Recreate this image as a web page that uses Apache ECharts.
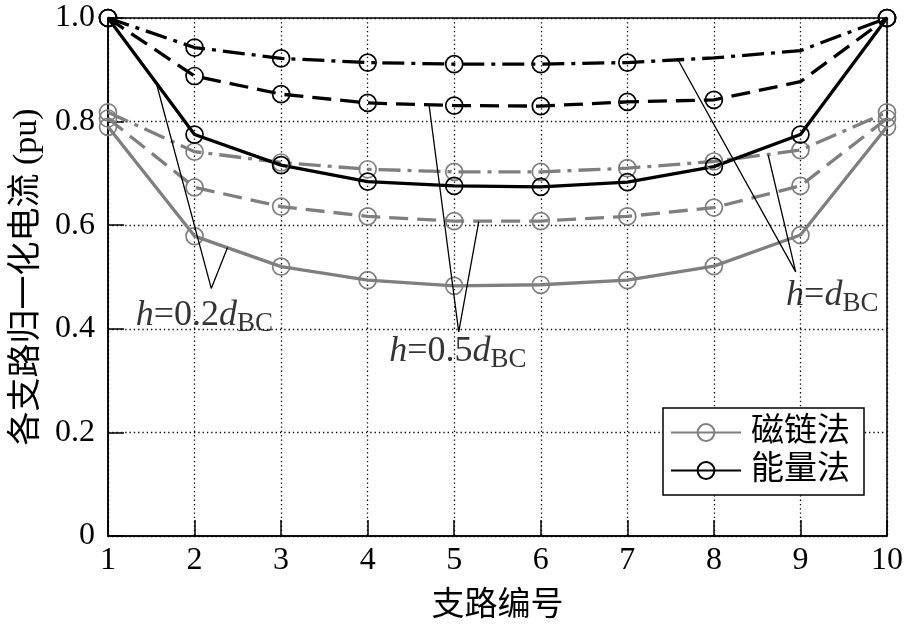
<!DOCTYPE html>
<html>
<head>
<meta charset="utf-8">
<script src="https://cdn.jsdelivr.net/npm/echarts@6/dist/echarts.min.js"></script>
<style>
html,body{margin:0;padding:0;background:#fff;}
#chart{width:906px;height:631px;}
</style>
</head>
<body>
<div id="chart"></div>
<script>
// ---- data ----
const branches = [1, 2, 3, 4, 5, 6, 7, 8, 9, 10];
const yTickLabels = ['0', '0.2', '0.4', '0.6', '0.8', '1.0'];
const xTickLabels = ['1', '2', '3', '4', '5', '6', '7', '8', '9', '10'];

// 磁链法 (gray)
const fluxH02 = [0.790, 0.579, 0.520, 0.494, 0.483, 0.485, 0.494, 0.521, 0.581, 0.790];
const fluxH05 = [0.806, 0.673, 0.636, 0.617, 0.608, 0.608, 0.617, 0.634, 0.676, 0.806];
const fluxH10 = [0.818, 0.742, 0.721, 0.708, 0.703, 0.703, 0.710, 0.723, 0.745, 0.818];
// 能量法 (black)
const energyH02 = [1.000, 0.775, 0.716, 0.684, 0.676, 0.674, 0.683, 0.713, 0.775, 1.000];
const energyH05 = [1.000, 0.888, 0.853, 0.836, 0.831, 0.830, 0.838, 0.842, 0.877, 1.000];
const energyH10 = [1.000, 0.943, 0.922, 0.914, 0.911, 0.911, 0.914, 0.923, 0.937, 1.000];

// indices of points drawn without a circle marker
const energyH05NoMarker = [8];
const energyH10NoMarker = [7, 8];

// annotation leaders (data coordinates): [end on curve, apex, end on curve]
const annoText = ['0.2', '0.5', ''];
const annoAnchor = [[1.326, 0.382], [4.254, 0.313], [8.840, 0.421]];
const annoLeader = [
  [[1.557, 0.875], [2.193, 0.478], [2.381, 0.557]],
  [[4.709, 0.8325], [5.052, 0.394], [5.283, 0.607]],
  [[7.587, 0.919], [8.945, 0.510], [8.628, 0.735]]
];

// ---- chart ----
const GRAY = '#7f7f7f';
const BLACK = '#000';
const SERIF = 'Liberation Serif';
const CJK = "'Liberation Serif', 'Noto Sans CJK SC'";
const DASH = [19, 9];
const DASHDOT = [22, 7, 4, 7];

function pts(vals, hidden) {
  return branches.map((x, i) => {
    const item = { value: [x, vals[i]] };
    if (hidden && hidden.indexOf(i) >= 0) item.symbol = 'none';
    return item;
  });
}

function curve(name, vals, color, type, hidden) {
  return {
    name: name,
    type: 'line',
    data: pts(vals, hidden),
    symbol: 'circle',
    symbolSize: 17,
    showSymbol: true,
    lineStyle: { color: color, width: 3.3, type: type },
    itemStyle: { color: 'rgba(0,0,0,0)', borderColor: color, borderWidth: 1.7 },
    emphasis: { disabled: true },
    silent: true,
    animation: false,
    z: 3
  };
}

const series = [
  curve('磁链法', fluxH02, GRAY, 'solid'),
  curve('磁链法', fluxH05, GRAY, DASH),
  curve('磁链法', fluxH10, GRAY, DASHDOT),
  curve('能量法', energyH02, BLACK, 'solid'),
  curve('能量法', energyH05, BLACK, DASH, energyH05NoMarker),
  curve('能量法', energyH10, BLACK, DASHDOT, energyH10NoMarker)
];

annoLeader.forEach((pl, k) => {
  series.push({
    name: 'leader' + k,
    type: 'line',
    data: pl,
    symbol: 'none',
    lineStyle: { color: BLACK, width: 1.3, type: 'solid' },
    silent: true,
    animation: false,
    z: 4
  });
});

const annoRich = {
  i: { fontFamily: SERIF, fontStyle: 'italic', fontSize: 36, color: '#000', padding: [0, 0, 4, 0], verticalAlign: 'bottom' },
  n: { fontFamily: SERIF, fontSize: 36, color: '#000', padding: [0, 0, 4, 0], verticalAlign: 'bottom' },
  s: { fontFamily: SERIF, fontSize: 27, color: '#000', verticalAlign: 'bottom' }
};

series.push({
  name: 'labels',
  type: 'scatter',
  symbolSize: 1,
  itemStyle: { color: 'rgba(0,0,0,0)' },
  silent: true,
  animation: false,
  z: 5,
  data: annoAnchor.map((a, k) => ({
    value: a,
    label: {
      show: true,
      position: [0, 0],
      align: 'left',
      verticalAlign: 'bottom',
      formatter: '{i|h}{n|=' + annoText[k] + '}{i|d}{s|BC}',
      rich: annoRich
    }
  }))
});

const chart = echarts.init(document.getElementById('chart'), null, { renderer: 'canvas' });
chart.setOption({
  backgroundColor: '#fff',
  animation: false,
  grid: {
    left: 108, right: 19, top: 18, bottom: 95,
    show: true, borderColor: '#000', borderWidth: 1.5, backgroundColor: 'transparent'
  },
  legend: {
    data: ['磁链法', '能量法'],
    orient: 'vertical',
    left: 663, top: 408,
    padding: [8, 14, 8, 7],
    itemGap: 5,
    itemWidth: 70,
    itemHeight: 21,
    borderColor: '#000',
    borderWidth: 1.5,
    backgroundColor: '#fff',
    selectedMode: false,
    textStyle: { fontFamily: CJK, fontSize: 33, color: '#000', padding: [0, 0, 0, 5] }
  },
  xAxis: {
    type: 'value',
    min: 1, max: 10, interval: 1,
    name: '支路编号',
    nameLocation: 'middle',
    nameGap: 54,
    nameTextStyle: { fontFamily: CJK, fontSize: 33, color: '#000' },
    axisLine: { show: true, lineStyle: { color: '#000', width: 1.5 } },
    axisTick: { show: true, inside: true, length: 16, lineStyle: { color: '#000', width: 1.5 } },
    axisLabel: {
      margin: 9, fontFamily: SERIF, fontSize: 32, color: '#000',
      formatter: v => xTickLabels[Math.round(v) - 1]
    },
    splitLine: { show: true, lineStyle: { color: '#000', width: 1.3, type: [1.3, 3] } }
  },
  yAxis: {
    type: 'value',
    min: 0, max: 1, interval: 0.2,
    name: '各支路归一化电流 (pu)',
    nameLocation: 'middle',
    nameGap: 57,
    nameRotate: 90,
    nameTextStyle: { fontFamily: CJK, fontSize: 34, color: '#000' },
    axisLine: { show: true, lineStyle: { color: '#000', width: 1.5 } },
    axisTick: { show: true, inside: true, length: 16, lineStyle: { color: '#000', width: 1.5 } },
    axisLabel: {
      margin: 13, fontFamily: SERIF, fontSize: 32, color: '#000',
      formatter: v => yTickLabels[Math.round(v / 0.2)]
    },
    splitLine: { show: true, lineStyle: { color: '#000', width: 1.3, type: [1.3, 3] } }
  },
  series: series
});
</script>
</body>
</html>
